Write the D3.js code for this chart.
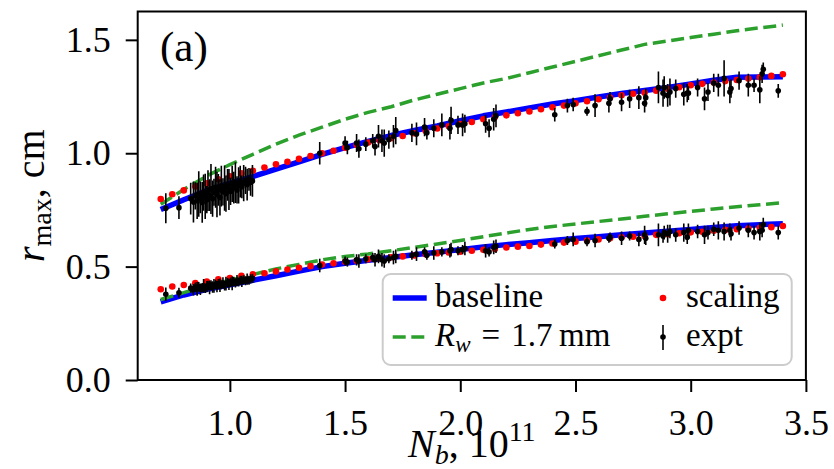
<!DOCTYPE html>
<html lang="en">
<head>
<meta charset="utf-8">
<script src="https://d3js.org/d3.v7.min.js"></script>
<style>
  body { margin: 0; background: #fff; }
  text { font-family: 'Liberation Serif', 'Times New Roman', serif; fill: #000; }
</style>
</head>
<body>
<script>
// ---- data ----
var lineN = [0.7, 0.8, 0.9, 1.0, 1.1, 1.2, 1.3, 1.4, 1.5, 1.6, 1.7, 1.8, 1.9, 2.0,
             2.1, 2.2, 2.3, 2.4, 2.5, 2.6, 2.7, 2.8, 2.9, 3.0, 3.1, 3.2, 3.3, 3.4];
var baseHigh = [0.752, 0.795, 0.835, 0.868, 0.897, 0.930, 0.962, 0.995, 1.025, 1.052, 1.078, 1.100, 1.120, 1.143,
                1.165, 1.182, 1.200, 1.217, 1.232, 1.248, 1.263, 1.277, 1.290, 1.305, 1.322, 1.335, 1.336, 1.337];
var baseLow = [0.345, 0.375, 0.400, 0.420, 0.440, 0.460, 0.480, 0.500, 0.515, 0.528, 0.540, 0.552, 0.563, 0.575,
               0.587, 0.597, 0.605, 0.615, 0.624, 0.632, 0.641, 0.648, 0.656, 0.664, 0.672, 0.680, 0.685, 0.689];
var rwHigh = [0.775, 0.840, 0.900, 0.950, 0.995, 1.040, 1.080, 1.115, 1.150, 1.180, 1.205, 1.235, 1.260, 1.285,
              1.310, 1.330, 1.355, 1.380, 1.405, 1.430, 1.455, 1.480, 1.495, 1.510, 1.525, 1.540, 1.553, 1.565];
var rwLow = [0.355, 0.385, 0.415, 0.440, 0.465, 0.490, 0.510, 0.530, 0.545, 0.556, 0.570, 0.585, 0.600, 0.615,
             0.632, 0.648, 0.664, 0.677, 0.688, 0.699, 0.710, 0.722, 0.733, 0.744, 0.754, 0.764, 0.773, 0.782];

var scalN = [0.70, 0.75, 0.80, 0.85, 0.90, 0.95, 1.00, 1.05, 1.10, 1.15, 1.20, 1.25, 1.30, 1.35,
             1.40, 1.45, 1.50, 1.55, 1.60, 1.65, 1.70, 1.75, 1.80, 1.85, 1.90, 1.95, 2.00, 2.05,
             2.10, 2.15, 2.20, 2.25, 2.30, 2.35, 2.40, 2.45, 2.50, 2.55, 2.60, 2.65, 2.70, 2.75,
             2.80, 2.85, 2.90, 2.95, 3.00, 3.05, 3.10, 3.15, 3.20, 3.25, 3.30, 3.35, 3.40];
var scalHigh = [0.798, 0.819, 0.836, 0.853, 0.867, 0.885, 0.898, 0.911, 0.923, 0.937, 0.951, 0.962, 0.975, 0.988,
                1.000, 1.011, 1.024, 1.037, 1.047, 1.057, 1.066, 1.076, 1.088, 1.098, 1.109, 1.119, 1.129, 1.138,
                1.150, 1.160, 1.167, 1.176, 1.184, 1.194, 1.203, 1.210, 1.220, 1.229, 1.238, 1.245, 1.256, 1.262,
                1.267, 1.276, 1.284, 1.291, 1.300, 1.306, 1.312, 1.318, 1.323, 1.329, 1.335, 1.341, 1.348];
var scalLow = [0.400, 0.412, 0.419, 0.427, 0.434, 0.444, 0.450, 0.459, 0.466, 0.471, 0.479, 0.487, 0.495, 0.502,
               0.509, 0.515, 0.521, 0.526, 0.532, 0.537, 0.541, 0.545, 0.549, 0.555, 0.559, 0.562, 0.566, 0.570,
               0.574, 0.578, 0.584, 0.588, 0.591, 0.597, 0.602, 0.606, 0.610, 0.615, 0.620, 0.625, 0.629, 0.632,
               0.635, 0.640, 0.643, 0.647, 0.651, 0.654, 0.658, 0.662, 0.665, 0.668, 0.671, 0.674, 0.679];

var exptN = [0.722, 0.779,
  0.830, 0.842, 0.850, 0.858, 0.865, 0.872, 0.880, 0.886, 0.893, 0.900,
  0.905, 0.912, 0.918, 0.925, 0.931, 0.938, 0.944, 0.950, 0.957, 0.963,
  0.970, 0.977, 0.983, 0.990, 0.996, 1.003, 1.010, 1.017, 1.024, 1.031,
  1.038, 1.045, 1.052, 1.060, 1.068, 1.075, 1.083, 1.090, 1.098,
  1.39, 1.50, 1.51, 1.55, 1.56, 1.59, 1.62, 1.63, 1.645,
  1.66, 1.67, 1.69, 1.71, 1.72,
  1.79, 1.81, 1.845, 1.855, 1.885, 1.92, 1.955, 1.96, 1.99, 2.01, 2.02,
  2.11, 2.125, 2.145, 2.155,
  2.41,
  2.465, 2.49, 2.55, 2.585, 2.645, 2.65, 2.70, 2.735, 2.775, 2.80, 2.805,
  2.86, 2.88, 2.885, 2.90, 2.91, 2.935, 2.97, 2.985, 2.99, 3.03, 3.06, 3.075,
  3.10, 3.12, 3.145, 3.17, 3.175, 3.21, 3.25, 3.275, 3.30, 3.31, 3.315, 3.38];
var exptHigh = [0.757, 0.760,
  0.800, 0.785, 0.812, 0.790, 0.820, 0.805, 0.783, 0.826, 0.810, 0.795,
  0.835, 0.815, 0.842, 0.800, 0.828, 0.850, 0.818, 0.838, 0.805, 0.855,
  0.830, 0.846, 0.822, 0.860, 0.840, 0.832, 0.865, 0.848, 0.870, 0.838,
  0.858, 0.875, 0.852, 0.868, 0.880, 0.862, 0.885, 0.872, 0.878,
  1.000, 1.045, 1.025, 1.045, 1.020, 1.040, 1.055, 1.030, 1.075,
  1.055, 1.045, 1.060, 1.075, 1.100,
  1.090, 1.085, 1.115, 1.090, 1.110, 1.125, 1.110, 1.145, 1.125, 1.125, 1.130,
  1.130, 1.110, 1.150, 1.165,
  1.170,
  1.210, 1.215, 1.185, 1.210, 1.220, 1.240, 1.225, 1.240, 1.245, 1.220, 1.245,
  1.290, 1.265, 1.290, 1.255, 1.270, 1.285, 1.260, 1.265, 1.265, 1.290, 1.240, 1.270,
  1.310, 1.300, 1.330, 1.270, 1.285, 1.320, 1.300, 1.300, 1.280, 1.350, 1.370, 1.275];
var exptHighErr = [0.066, 0.050,
  0.07, 0.09, 0.06, 0.08, 0.10, 0.07, 0.09, 0.08, 0.10, 0.06,
  0.09, 0.07, 0.11, 0.08, 0.06, 0.09, 0.10, 0.07, 0.08, 0.09,
  0.06, 0.10, 0.08, 0.07, 0.09, 0.06, 0.08, 0.07, 0.09, 0.06,
  0.08, 0.07, 0.05, 0.08, 0.06, 0.07, 0.05, 0.06, 0.07,
  0.05, 0.03, 0.03, 0.04, 0.04, 0.03, 0.03, 0.04, 0.05,
  0.05, 0.06, 0.04, 0.05, 0.06,
  0.04, 0.05, 0.04, 0.03, 0.04, 0.05, 0.05, 0.06, 0.04, 0.05, 0.04,
  0.04, 0.04, 0.05, 0.05,
  0.03,
  0.03, 0.03, 0.02, 0.05, 0.04, 0.03, 0.04, 0.04, 0.05, 0.04, 0.04,
  0.07, 0.06, 0.05, 0.05, 0.06, 0.04, 0.05, 0.04, 0.03, 0.04, 0.05, 0.04,
  0.04, 0.05, 0.08, 0.05, 0.04, 0.04, 0.05, 0.03, 0.06, 0.04, 0.03, 0.03];
var exptLow = [0.378, 0.385,
  0.405, 0.398, 0.410, 0.402, 0.412, 0.400, 0.408, 0.415, 0.404, 0.412,
  0.418, 0.408, 0.420, 0.410, 0.415, 0.422, 0.412, 0.425, 0.418, 0.420,
  0.428, 0.415, 0.425, 0.430, 0.422, 0.432, 0.426, 0.435, 0.428, 0.438,
  0.432, 0.440, 0.435, 0.442, 0.438, 0.445, 0.440, 0.446, 0.448,
  0.505, 0.525, 0.520, 0.530, 0.525, 0.535, 0.540, 0.530, 0.545,
  0.530, 0.525, 0.535, 0.540, 0.545,
  0.550, 0.555, 0.565, 0.550, 0.560, 0.565, 0.570, 0.575, 0.570, 0.575, 0.580,
  0.570, 0.565, 0.585, 0.590,
  0.600,
  0.615, 0.620, 0.610, 0.615, 0.625, 0.630, 0.625, 0.635, 0.620, 0.640, 0.625,
  0.640, 0.635, 0.650, 0.645, 0.655, 0.640, 0.650, 0.630, 0.660, 0.655, 0.640, 0.650,
  0.665, 0.660, 0.655, 0.660, 0.645, 0.670, 0.660, 0.650, 0.655, 0.660, 0.685, 0.650];
var exptLowErr = [0.030, 0.022,
  0.02, 0.025, 0.02, 0.03, 0.02, 0.025, 0.02, 0.03, 0.02, 0.025,
  0.02, 0.03, 0.02, 0.025, 0.03, 0.02, 0.025, 0.02, 0.03, 0.02,
  0.025, 0.02, 0.03, 0.02, 0.025, 0.02, 0.03, 0.02, 0.02, 0.025,
  0.02, 0.02, 0.025, 0.02, 0.02, 0.025, 0.02, 0.02, 0.02,
  0.03, 0.02, 0.02, 0.025, 0.03, 0.02, 0.02, 0.03, 0.03,
  0.03, 0.03, 0.02, 0.03, 0.03,
  0.02, 0.03, 0.02, 0.02, 0.03, 0.02, 0.03, 0.03, 0.02, 0.02, 0.03,
  0.03, 0.02, 0.03, 0.03,
  0.02,
  0.02, 0.03, 0.02, 0.03, 0.02, 0.02, 0.03, 0.02, 0.03, 0.04, 0.03,
  0.05, 0.03, 0.03, 0.04, 0.03, 0.03, 0.04, 0.03, 0.03, 0.03, 0.04, 0.03,
  0.03, 0.04, 0.04, 0.03, 0.03, 0.03, 0.03, 0.03, 0.04, 0.03, 0.03, 0.03];

var xTicks = [1.0, 1.5, 2.0, 2.5, 3.0, 3.5];
var yTicks = [0.0, 0.5, 1.0, 1.5];

// ---- setup ----
var width = 834, height = 469;
var plotL = 137.7, plotR = 805.9, plotT = 11.5, plotB = 380;

var svg = d3.select('body').append('svg').attr('width', width).attr('height', height);

var x = d3.scaleLinear().domain([0.6, 3.5]).range([plotL, plotR]);
var y = d3.scaleLinear().domain([0, 1.625]).range([plotB, plotT]);

svg.append('clipPath').attr('id', 'plotclip')
  .append('rect').attr('x', plotL).attr('y', plotT).attr('width', plotR - plotL).attr('height', plotB - plotT);

var plot = svg.append('g').attr('clip-path', 'url(#plotclip)');

var line = d3.line().x(function(d) { return x(d[0]); }).y(function(d) { return y(d[1]); });

// baseline (blue)
[baseHigh, baseLow].forEach(function(vals) {
  plot.append('path')
    .datum(lineN.map(function(n, i) { return [n, vals[i]]; }))
    .attr('d', line)
    .attr('fill', 'none').attr('stroke', '#0000ff').attr('stroke-width', 5.5)
    .attr('stroke-linejoin', 'round');
});

// R_w = 1.7 mm (green dashed)
[rwHigh, rwLow].forEach(function(vals) {
  plot.append('path')
    .datum(lineN.map(function(n, i) { return [n, vals[i]]; }))
    .attr('d', line)
    .attr('fill', 'none').attr('stroke', '#2ca02c').attr('stroke-width', 3.5)
    .attr('stroke-dasharray', '13,5.6');
});

// scaling (red dots)
[scalHigh, scalLow].forEach(function(vals) {
  plot.append('g').selectAll('circle')
    .data(scalN.map(function(n, i) { return [n, vals[i]]; }))
    .join('circle')
    .attr('cx', function(d) { return x(d[0]); })
    .attr('cy', function(d) { return y(d[1]); })
    .attr('r', 3.3)
    .attr('fill', '#ff0000');
});

// expt (black with error bars)
[[exptHigh, exptHighErr], [exptLow, exptLowErr]].forEach(function(p) {
  var pts = exptN.map(function(n, i) { return { n: n, v: p[0][i], e: p[1][i] }; });
  var g = plot.append('g');
  g.selectAll('line')
    .data(pts)
    .join('line')
    .attr('x1', function(d) { return x(d.n); })
    .attr('x2', function(d) { return x(d.n); })
    .attr('y1', function(d) { return y(d.v - d.e); })
    .attr('y2', function(d) { return y(d.v + d.e); })
    .attr('stroke', '#000').attr('stroke-width', 1.6);
  g.selectAll('circle')
    .data(pts)
    .join('circle')
    .attr('cx', function(d) { return x(d.n); })
    .attr('cy', function(d) { return y(d.v); })
    .attr('r', 2.8)
    .attr('fill', '#000');
});

// ---- axes ----
var xAxis = d3.axisBottom(x).tickValues(xTicks).tickFormat(d3.format('.1f'))
  .tickSize(12).tickSizeOuter(0).tickPadding(17);
var yAxis = d3.axisLeft(y).tickValues(yTicks).tickFormat(d3.format('.1f'))
  .tickSize(12).tickSizeOuter(0).tickPadding(15);

var gx = svg.append('g').attr('transform', 'translate(0,' + plotB + ')').call(xAxis);
var gy = svg.append('g').attr('transform', 'translate(' + plotL + ',0)').call(yAxis);
[gx, gy].forEach(function(g) {
  g.select('.domain').remove();
  g.selectAll('.tick line').attr('stroke', '#000').attr('stroke-width', 2);
  g.selectAll('.tick text').style('font-family', "'Liberation Serif', serif").style('font-size', '36px').attr('fill', '#000');
});

svg.append('rect')
  .attr('x', plotL).attr('y', plotT).attr('width', plotR - plotL).attr('height', plotB - plotT)
  .attr('fill', 'none').attr('stroke', '#000').attr('stroke-width', 2);

// axis labels
var xl = svg.append('text').attr('x', (plotL + plotR) / 2).attr('y', 457)
  .attr('text-anchor', 'middle').style('font-size', '40px');
xl.append('tspan').style('font-style', 'italic').text('N');
xl.append('tspan').attr('dy', 7).style('font-size', '28px').style('font-style', 'italic').text('b');
xl.append('tspan').attr('dy', -7).text(', 10');
xl.append('tspan').attr('dy', -16).style('font-size', '28px').text('11');

var yl = svg.append('text')
  .attr('transform', 'translate(44,' + ((plotT + plotB) / 2) + ') rotate(-90)')
  .attr('text-anchor', 'middle').style('font-size', '40px');
yl.append('tspan').style('font-style', 'italic').text('r');
yl.append('tspan').attr('dy', 7).style('font-size', '28px').text('max');
yl.append('tspan').attr('dy', -7).text(', cm');

svg.append('text').attr('x', 160).attr('y', 61).style('font-size', '43px').text('(a)');

// ---- legend ----
var lg = svg.append('g');
lg.append('rect').attr('x', 382.7).attr('y', 274).attr('width', 409).attr('height', 91)
  .attr('rx', 8).attr('fill', '#fff').attr('fill-opacity', 0.8)
  .attr('stroke', '#cccccc').attr('stroke-width', 2);

lg.append('line').attr('x1', 392.7).attr('x2', 426.7).attr('y1', 298).attr('y2', 298)
  .attr('stroke', '#0000ff').attr('stroke-width', 5.5);
lg.append('line').attr('x1', 392.7).attr('x2', 426.7).attr('y1', 337).attr('y2', 337)
  .attr('stroke', '#2ca02c').attr('stroke-width', 3.5).attr('stroke-dasharray', '13,5.6');
lg.append('circle').attr('cx', 663).attr('cy', 298).attr('r', 3.3).attr('fill', '#ff0000');
lg.append('line').attr('x1', 663).attr('x2', 663).attr('y1', 325).attr('y2', 350)
  .attr('stroke', '#000').attr('stroke-width', 1.6);
lg.append('circle').attr('cx', 663).attr('cy', 337).attr('r', 2.8).attr('fill', '#000');

lg.append('text').attr('x', 435).attr('y', 307).style('font-size', '33px').text('baseline');
var rw = lg.append('text').attr('x', 435).attr('y', 346).style('font-size', '33px');
rw.append('tspan').style('font-style', 'italic').text('R');
rw.append('tspan').attr('dy', 6).style('font-size', '23px').style('font-style', 'italic').text('w');
rw.append('tspan').attr('dy', -6).text('\u2004=\u20041.7\u2009mm');
lg.append('text').attr('x', 686).attr('y', 307).style('font-size', '33px').text('scaling');
lg.append('text').attr('x', 686).attr('y', 346).style('font-size', '33px').text('expt');
</script>
</body>
</html>
